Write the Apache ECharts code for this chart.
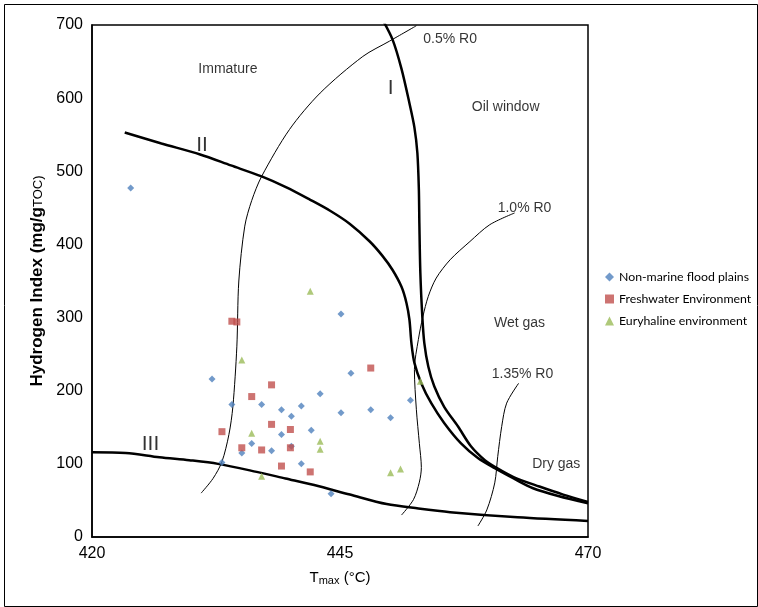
<!DOCTYPE html>
<html>
<head>
<meta charset="utf-8">
<script src="https://cdn.jsdelivr.net/npm/echarts@6/dist/echarts.min.js"></script>
<style>
  html, body { margin: 0; padding: 0; background: #fff; }
  #main { width: 758px; height: 607px; }
</style>
</head>
<body>
<div id="main"></div>
<script>
// sample points [Tmax, HI]
var nonMarine = [
  [423.9, 477], [445.1, 305], [446.1, 224], [432.1, 216], [443.0, 196],
  [434.1, 181], [437.1, 181], [441.1, 179], [439.1, 174], [440.1, 165],
  [445.1, 170], [448.1, 174], [450.1, 163], [452.1, 187], [442.1, 146],
  [439.1, 140], [436.1, 128], [435.1, 115], [438.1, 118], [440.1, 124],
  [433.1, 102], [441.1, 100], [444.1, 59]
];
var freshwater = [
  [434.1, 295], [434.6, 294], [448.1, 231], [438.1, 208], [436.1, 192],
  [438.1, 154], [440.0, 147], [433.1, 144], [435.1, 122], [437.1, 119],
  [440.0, 122], [439.1, 97], [442.0, 89]
];
var euryhaline = [
  [442.0, 336], [435.1, 242], [436.1, 142], [443.0, 131], [443.0, 120],
  [437.1, 83], [450.1, 88], [451.1, 93], [453.1, 213]
];

// kerogen type curves
var typeI = [
  [449.3, 707], [450.3, 680], [451.2, 640], [452.0, 593], [452.5, 560],
  [452.8, 525], [452.95, 475], [453.0, 429], [453.1, 361], [453.3, 301],
  [453.5, 265], [453.9, 233], [454.5, 206], [455.5, 178], [456.9, 151],
  [458.2, 124], [459.6, 105], [460.6, 96], [462.5, 82], [465.1, 69],
  [467.5, 58], [470, 48]
];
var typeII = [
  [423.3, 553], [427.0, 538], [430.9, 523], [434.0, 508], [437.1, 493],
  [439.6, 478], [442.0, 461], [444.0, 446], [446.0, 428], [448.0, 404],
  [449.3, 384], [450.3, 365], [451.2, 342], [451.7, 320], [452.0, 297],
  [452.2, 265], [452.5, 238], [453.2, 210], [454.2, 183], [455.5, 156],
  [457.2, 128], [458.9, 108], [460.6, 94], [462.5, 80], [464.4, 67],
  [467.0, 56], [470, 46]
];
var typeIII = [
  [420, 116], [423.4, 115], [426.8, 109], [429.8, 105], [432.7, 100],
  [436.6, 89], [439.5, 80], [442.4, 71], [446.0, 58], [449.7, 45],
  [452.9, 39], [456.1, 34], [462.9, 27], [470, 22]
];

// vitrinite reflectance curves
var ro05 = [
  [431.0, 60], [432.2, 80], [433.1, 103], [433.8, 140], [434.2, 178],
  [434.6, 260], [434.8, 350], [435.4, 425], [436.1, 460], [437.1, 493],
  [439.9, 557], [443.0, 607], [447.3, 657], [450.0, 678], [452.7, 699]
];
var ro10 = [
  [462.6, 443], [460.1, 427], [458.1, 404], [456.1, 379], [454.7, 354],
  [453.9, 329], [453.35, 301], [452.9, 270], [452.5, 229], [452.7, 174],
  [453.0, 128], [453.2, 95], [453.0, 75], [452.4, 51], [451.2, 30]
];
var ro135 = [
  [463.0, 210], [461.8, 183], [461.3, 151], [460.9, 110], [460.6, 74],
  [459.8, 37], [458.9, 15]
];

// region / curve labels
var zoneLabels = [
  { name: 'Immature', value: [433.7, 639] },
  { name: 'Oil window', value: [461.7, 588] },
  { name: 'Wet gas', value: [463.1, 292] },
  { name: 'Dry gas', value: [466.8, 100] },
  { name: '0.5% R0', value: [456.1, 680] },
  { name: '1.0% R0', value: [463.6, 450] },
  { name: '1.35% R0', value: [463.4, 223] }
];
var typeLabels = [
  { name: 'I', value: [450.1, 614] },
  { name: 'II', value: [431.1, 536] },
  { name: 'III', value: [425.9, 127] }
];

var xTicks = [420, 445, 470];

var chart = echarts.init(document.getElementById('main'));

function curve(data, w) {
  return {
    type: 'line', data: data, smooth: 0.3, symbol: 'none', silent: true,
    lineStyle: { color: '#000', width: w }, z: 1
  };
}

function labels(data, size) {
  return {
    type: 'scatter', data: data, symbolSize: 0, silent: true, z: 5,
    label: {
      show: true, position: 'inside', formatter: '{b}', color: '#000',
      fontFamily: 'Liberation Sans', fontSize: size
    }
  };
}

var base = { fontFamily: 'Liberation Sans', color: '#000' };

chart.setOption({
  backgroundColor: '#fff',
  animation: false,
  graphic: [{
    type: 'rect', left: 2, top: 2, silent: true,
    shape: { width: 753, height: 602 },
    style: { fill: 'none', stroke: '#000', lineWidth: 1 }
  }],
  grid: {
    left: 92, top: 25, right: 170, bottom: 70,
    show: true, borderColor: '#000', borderWidth: 1.5
  },
  legend: {
    left: 600, top: 266, orient: 'vertical', itemGap: 10,
    itemWidth: 9, itemHeight: 9,
    data: ['Non-marine flood plains', 'Freshwater Environment', 'Euryhaline environment'],
    textStyle: { fontFamily: 'Lato', fontSize: 12.3, color: '#000' }
  },
  xAxis: {
    type: 'value', min: 420, max: 470, interval: 25,
    splitLine: { show: false }, axisTick: { show: false },
    axisLine: { lineStyle: { color: '#000', width: 1.5 } },
    axisLabel: Object.assign({ fontSize: 16, margin: 9,
      formatter: function (v) { return xTicks.indexOf(v) >= 0 ? v : ''; } }, base),
    name: '{a|T}{s|max}{a| (°C)}',
    nameLocation: 'middle', nameGap: 32,
    nameTextStyle: {
      rich: {
        a: Object.assign({ fontSize: 15 }, base),
        s: Object.assign({ fontSize: 11, padding: [6, 0, 0, 0] }, base)
      }
    }
  },
  yAxis: {
    type: 'value', min: 0, max: 700, interval: 100,
    splitLine: { show: false }, axisTick: { show: false },
    axisLine: { lineStyle: { color: '#000', width: 1.5 } },
    axisLabel: Object.assign({ fontSize: 16, margin: 9 }, base),
    name: '{a|Hydrogen Index (mg/g}{b|TOC)}',
    nameLocation: 'middle', nameRotate: 90, nameGap: 46,
    nameTextStyle: {
      rich: {
        a: Object.assign({ fontSize: 17, fontWeight: 'bold' }, base),
        b: Object.assign({ fontSize: 13, padding: [3, 0, 0, 0] }, base)
      }
    }
  },
  series: [
    curve(ro05, 1), curve(ro10, 1), curve(ro135, 1),
    curve(typeI, 2.5), curve(typeII, 2.5), curve(typeIII, 2.5),
    labels(zoneLabels, 14),
    labels(typeLabels, 21),
    {
      name: 'Non-marine flood plains', type: 'scatter', data: nonMarine,
      symbol: 'diamond', symbolSize: 7, itemStyle: { color: '#4F81BD' }, z: 3
    },
    {
      name: 'Freshwater Environment', type: 'scatter', data: freshwater,
      symbol: 'rect', symbolSize: 7, itemStyle: { color: '#C0504D' }, z: 4
    },
    {
      name: 'Euryhaline environment', type: 'scatter', data: euryhaline,
      symbol: 'triangle', symbolSize: 7, itemStyle: { color: '#9BBB59' }, z: 4
    }
  ]
});
</script>
</body>
</html>
